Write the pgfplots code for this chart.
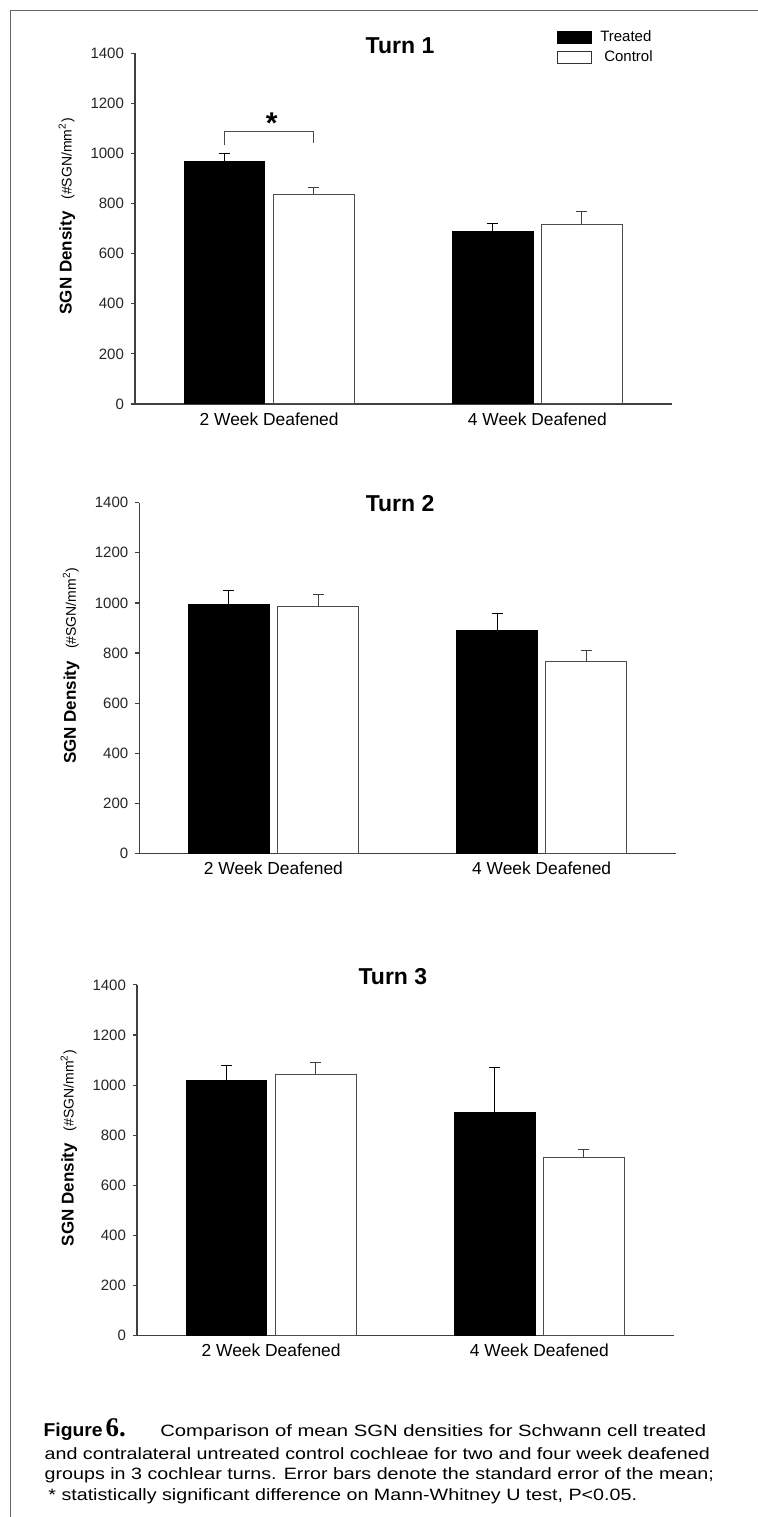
\documentclass[border=0pt]{standalone}
\usepackage{pgfplots}
\pgfplotsset{compat=1.18}
\usepackage{pgfplotstable}
\usepackage{graphicx}
\usepackage{fontspec}
\setmainfont{Liberation Sans}
\newfontfamily\seriffont{Liberation Serif}

\pgfplotstableread{
x y e
0 969 31
1 687 32
}\tOneT
\pgfplotstableread{
x y e
0 837 28
1 715 52
}\tOneC
\pgfplotstableread{
x y e
0 995 55
1 889 69
}\tTwoT
\pgfplotstableread{
x y e
0 986 48
1 765 47
}\tTwoC
\pgfplotstableread{
x y e
0 1018 59
1 892 178
}\tThreeT
\pgfplotstableread{
x y e
0 1041 48
1 712 32
}\tThreeC

\newcommand{\ylab}{\textbf{SGN Density}\hspace{0.7em}{\fontsize{7}{8}\selectfont(\#SGN/mm\textsuperscript{2})}}

\pgfplotsset{
  sgn/.style={
    width=268.25pt, height=175.4pt, scale only axis,
    ybar=4.3pt, bar width=40.3pt,
    xmin=-0.5, xmax=1.5, ymin=0, ymax=1400,
    enlargelimits=false,
    axis x line*=bottom, axis y line*=left,
    axis line style={black!75, line width=0.6pt},
    xtick={0,1}, xticklabels={2 Week Deafened, 4 Week Deafened},
    xtick style={draw=none},
    ytick={0,200,400,600,800,1000,1200,1400},
    ytick pos=left, tick align=outside, major tick length=2pt,
    ytick style={black!75, line width=0.6pt},
    /pgf/number format/assume math mode=true,
    /pgf/number format/1000 sep={},
    scaled y ticks=false,
    yticklabel style={font=\fontsize{7.5}{9}\selectfont, text=black!85},
    xticklabel style={font=\fontsize{8.7}{10}\selectfont, yshift=1.2pt},
    ylabel={\ylab},
    every axis y label/.style={at={(axis description cs:-0.127,0.535)}, rotate=90, anchor=center, font=\fontsize{8.5}{10}\selectfont},
    title style={anchor=base, yshift=-6pt, font=\fontsize{11.5}{13}\selectfont\bfseries},
  },
  boxlegend/.style={legend image code/.code={\draw[##1] (0pt,-2.9pt) rectangle (17.35pt,2.9pt);}},
  tbar/.style={fill=black, draw=black, line width=0.5pt, bar shift=-22.3pt, forget plot,
    error bars/.cd, y dir=plus, y explicit,
    error bar style={black, line width=0.5pt},
    error mark options={rotate=90, black, mark size=2.75pt, line width=0.5pt}},
  cbar/.style={fill=white, draw=black!70, line width=0.5pt, bar shift=22.3pt, forget plot,
    error bars/.cd, y dir=plus, y explicit,
    error bar style={black!75, line width=0.5pt},
    error mark options={rotate=90, black!75, mark size=2.75pt, line width=0.5pt}},
}

\begin{document}
\begin{tikzpicture}
\useasboundingbox (0pt,0pt) rectangle (378.5pt,758.5pt);
\fill[white] (0pt,0pt) rectangle (378.5pt,758.5pt);
\draw[black!60, line width=0.75pt] (5.35pt,-2pt) -- (5.35pt,753.15pt) -- (382pt,753.15pt);

% Turn 1
\begin{axis}[sgn, at={(67.5pt,556.5pt)}, anchor=south west,
  title={Turn 1}, title style={at={(axis description cs:0.494,1.0)}},
  legend style={at={(axis description cs:0.785,1.071)}, anchor=north west, draw=none, fill=none,
    font=\fontsize{7.5}{9}\selectfont, inner sep=0pt, row sep=1pt,
    nodes={inner sep=1pt}},
  legend cell align=left]
\addplot[tbar] table[x=x, y=y, y error=e] {\tOneT};
\addplot[cbar] table[x=x, y=y, y error=e] {\tOneC};
\addlegendimage{boxlegend, fill=black, draw=black, line width=0.5pt}
\addlegendentry{\hspace{3pt}Treated}
\addlegendimage{boxlegend, fill=white, draw=black!80, line width=0.5pt}
\addlegendentry{\hspace{5pt}Control}
\draw[black!70, line width=0.5pt] (axis cs:-0.166,1032) -- (axis cs:-0.166,1088) -- (axis cs:0.166,1088) -- (axis cs:0.166,1043);
\node[anchor=base, inner sep=0pt, font=\fontsize{15}{15}\selectfont\bfseries] at (axis cs:0.01,1081) {*};
\end{axis}

% Turn 2
\begin{axis}[sgn, at={(69.65pt,331.75pt)}, anchor=south west,
  title={Turn 2}, title style={at={(axis description cs:0.486,0.974)}}]
\addplot[tbar] table[x=x, y=y, y error=e] {\tTwoT};
\addplot[cbar] table[x=x, y=y, y error=e] {\tTwoC};
\end{axis}

% Turn 3
\begin{axis}[sgn, at={(68.5pt,90.65pt)}, anchor=south west,
  title={Turn 3}, title style={at={(axis description cs:0.477,1.0)}}]
\addplot[tbar] table[x=x, y=y, y error=e] {\tThreeT};
\addplot[cbar] table[x=x, y=y, y error=e] {\tThreeC};
\end{axis}

% Caption
\node[anchor=base west, inner sep=0pt] at (21.6pt,40.15pt)
  {{\fontsize{9.3}{11}\selectfont\bfseries\scalebox{1.04}[1]{Figure}}\hspace{1.5pt}{\seriffont\fontsize{13.5}{14}\selectfont\bfseries 6.}};
\node[anchor=base east, inner sep=0pt] at (353.35pt,40.15pt)
  {\scalebox{1.235}[1]{\fontsize{8.2}{10}\selectfont Comparison of mean SGN densities for Schwann cell treated}};
\node[anchor=base west, inner sep=0pt] at (22.15pt,28.5pt)
  {\scalebox{1.2}[1]{\fontsize{8.2}{10}\selectfont and contralateral untreated control cochleae for two and four week deafened}};
\node[anchor=base west, inner sep=0pt] at (22.15pt,18.5pt)
  {\scalebox{1.2}[1]{\fontsize{8.2}{10}\selectfont groups in 3 cochlear turns. Error bars denote the standard error of the mean;}};
\node[anchor=base west, inner sep=0pt] at (24pt,8.5pt)
  {\scalebox{1.2}[1]{\fontsize{8.2}{10}\selectfont * statistically significant difference on Mann-Whitney U test, P<0.05.}};
\end{tikzpicture}
\end{document}
